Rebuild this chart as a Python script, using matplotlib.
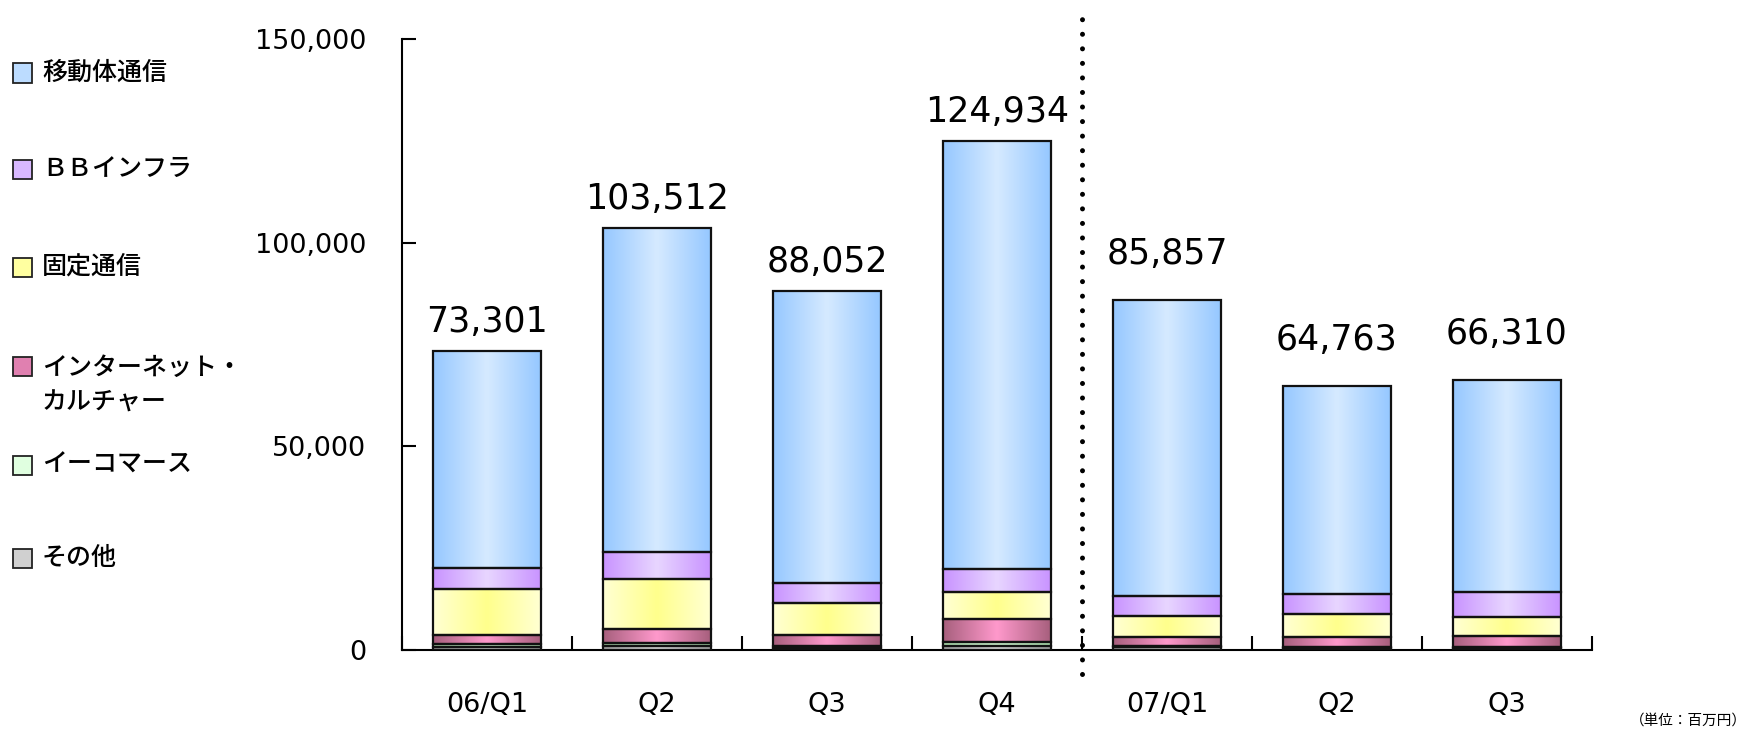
import matplotlib.pyplot as plt
from matplotlib.patches import Rectangle
from matplotlib.colors import to_rgb
import numpy as np

plt.rcParams['font.family'] = ['Noto Sans CJK JP', 'DejaVu Sans']

# Quarters and segment values (million yen)
categories = ['06/Q1', 'Q2', 'Q3', 'Q4', '07/Q1', 'Q2', 'Q3']
totals = [73301, 103512, 88052, 124934, 85857, 64763, 66310]
other = [800, 1000, 600, 1000, 700, 400, 400]
ecommerce = [600, 800, 300, 1000, 400, 400, 400]
internet = [2400, 3400, 2700, 5700, 2000, 2300, 2600]
fixed = [11100, 12300, 8000, 6600, 5200, 5800, 4700]
bb = [5300, 6600, 4800, 5700, 5000, 4900, 6100]
mobile = [53101, 79412, 71652, 104934, 72557, 50963, 52110]

series_labels = ['移動体通信', 'ＢＢインフラ', '固定通信', 'インターネット・\nカルチャー', 'イーコマース', 'その他']

# bottom-to-top stacking order: (values, edge colour, centre colour)
stack = [
    (other, '#a8a8a8', '#dcdcdc'),
    (ecommerce, '#b4e6b4', '#d8ffd8'),
    (internet, '#a8607e', '#ff99cc'),
    (fixed, '#ffffd2', '#ffff8c'),
    (bb, '#c994ff', '#e8d6ff'),
    (mobile, '#96c8ff', '#d6eaff'),
]
legend_colors = ['#bcdcff', '#d8b8ff', '#ffffa0', '#e080b0', '#e0ffe0', '#d0d0d0']


def gradient(edge, centre, n=64):
    t = np.abs(np.linspace(-1, 1, n))[:, None]
    g = np.array(to_rgb(centre)) * (1 - t) + np.array(to_rgb(edge)) * t
    return g[None, :, :]


fig = plt.figure(figsize=(17.5, 7.31), dpi=100)
ax = fig.add_axes([402 / 1750, 1 - 650 / 731, 1190 / 1750, 611 / 731])

x = np.arange(len(categories))
w = 0.635
bottom = np.zeros(len(categories))
for vals, edge, centre in stack:
    img = gradient(edge, centre)
    for i in range(len(categories)):
        ax.imshow(img, extent=(x[i] - w / 2, x[i] + w / 2, bottom[i], bottom[i] + vals[i]),
                  aspect='auto', interpolation='bilinear', zorder=2)
    ax.bar(x, vals, w, bottom=bottom, fill=False, edgecolor='#111111', linewidth=1.6, zorder=3)
    bottom += np.array(vals)

# second fiscal year labels sit a bit higher in the original
label_offsets = [14, 14, 14, 14, 26, 26, 26]
for i, t in enumerate(totals):
    ax.annotate(f'{t:,}', (x[i], bottom[i]), xytext=(0, label_offsets[i]), textcoords='offset points',
                ha='center', va='baseline', fontsize=25, family='DejaVu Sans')

ax.set_xlim(-0.5, len(categories) - 0.5)
ax.set_ylim(0, 150000)

# dotted divider between fiscal years
ax.plot([3.5, 3.5], [-5900, 156400], color='black', linewidth=3.6,
        linestyle=(0, (0.01, 2.9)), dash_capstyle='round', clip_on=False, zorder=4)

for s in ['top', 'right']:
    ax.spines[s].set_visible(False)
for s in ['left', 'bottom']:
    ax.spines[s].set_linewidth(1.5)

ax.set_yticks([0, 50000, 100000, 150000])
ax.set_yticklabels(['0', '50,000', '100,000', '150,000'], family='DejaVu Sans', fontsize=19.5)
ax.tick_params(axis='y', direction='in', length=10, width=1.5, pad=26)
ax.set_xticks(x)
ax.set_xticklabels(categories, family='DejaVu Sans', fontsize=19.5)
ax.set_xticks(np.arange(-0.5, len(categories)), minor=True)
ax.tick_params(axis='x', which='major', length=0, pad=30)
ax.tick_params(axis='x', which='minor', direction='in', length=10, width=1.5)

# legend drawn on the left side
legend_y = [73, 169, 267, 385, 465, 558]
for lab, col, yy in zip(series_labels, legend_colors, legend_y):
    sq_y = 366 if '\n' in lab else yy
    fig.patches.append(Rectangle((13 / 1750, 1 - (sq_y + 9.5) / 731), 19 / 1750, 19 / 731,
                                 transform=fig.transFigure, facecolor=col,
                                 edgecolor='#222222', linewidth=1.3))
    fig.text(42 / 1750, 1 - yy / 731, lab, fontsize=18, va='center', ha='left',
             linespacing=1.45, fontweight='medium')

fig.text(1747 / 1750, 1 - 721 / 731, '（単位：百万円）', fontsize=10.5, ha='right', va='center')

plt.savefig('out.png', dpi=100)
